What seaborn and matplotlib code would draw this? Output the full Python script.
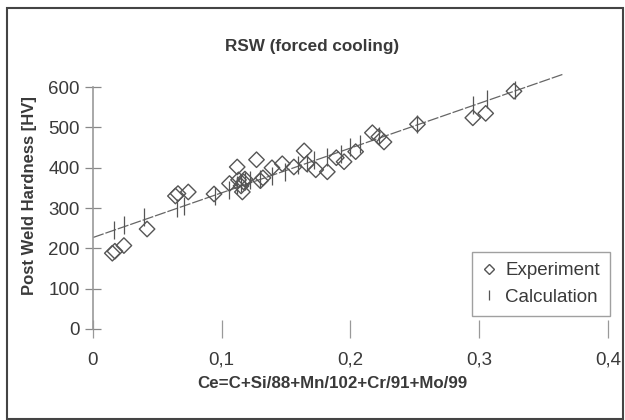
import matplotlib
matplotlib.use("Agg")
import matplotlib.pyplot as plt
from matplotlib.lines import Line2D
from matplotlib.patches import Rectangle
from matplotlib.ticker import FuncFormatter
import seaborn as sns
import pandas as pd

# ---- data ----
exp_x = [0.015, 0.017, 0.024, 0.042, 0.064, 0.066, 0.074, 0.094, 0.106, 0.112,
         0.113, 0.115, 0.116, 0.117, 0.118, 0.127, 0.130, 0.132, 0.139, 0.147,
         0.156, 0.164, 0.166, 0.173, 0.182, 0.189, 0.195, 0.204, 0.217, 0.222,
         0.226, 0.252, 0.295, 0.305, 0.327]
exp_y = [188, 193, 207, 248, 330, 336, 340, 335, 361, 402,
         370, 355, 340, 365, 372, 420, 368, 375, 400, 410,
         402, 442, 410, 395, 390, 425, 415, 440, 487, 477,
         464, 508, 524, 535, 590]

calc_x = [0.016, 0.024, 0.040, 0.065, 0.071, 0.095, 0.106, 0.112, 0.115, 0.118,
          0.122, 0.130, 0.139, 0.149, 0.159, 0.166, 0.172, 0.182, 0.193, 0.200,
          0.207, 0.222, 0.252, 0.295, 0.306, 0.328]
calc_y = [245, 258, 278, 300, 305, 330, 345, 358, 362, 368,
          370, 372, 380, 390, 408, 412, 420, 428, 435, 452,
          460, 480, 508, 556, 570, 592]

trend_x = [0.0, 0.365]
trend_y = [227, 632]

x_ticks = [0, 0.1, 0.2, 0.3, 0.4]
y_ticks = [0, 100, 200, 300, 400, 500, 600]

title = "RSW (forced cooling)"
xlabel = "Ce=C+Si/88+Mn/102+Cr/91+Mo/99"
ylabel = "Post Weld Hardness [HV]"

# ---- style ----
sns.set_theme(style="white")
plt.rcParams["font.family"] = ["Liberation Sans", "DejaVu Sans"]
TXT = "#3a3a3a"
GREY = "#555555"

fig = plt.figure(figsize=(6.25, 4.2), dpi=100)
ax = fig.add_axes([93 / 625, 0.2167, 515 / 625, 0.640])

exp_df = pd.DataFrame({"x": exp_x, "y": exp_y})
calc_df = pd.DataFrame({"x": calc_x, "y": calc_y})
trend_df = pd.DataFrame({"x": trend_x, "y": trend_y})

sns.lineplot(data=trend_df, x="x", y="y", ax=ax, color="#666666",
             linewidth=0.9, linestyle=(0, (9, 1.5)), zorder=2)
sns.scatterplot(data=calc_df, x="x", y="y", ax=ax, marker="|", s=180,
                color=GREY, linewidth=0.9, zorder=3)
sns.scatterplot(data=exp_df, x="x", y="y", ax=ax, marker="D", s=62,
                facecolor="none", edgecolor=GREY, linewidth=1.0, zorder=4)

ax.set_xlim(0, 0.4)
ax.set_ylim(0, 667)
ax.set_xticks(x_ticks)
ax.set_yticks(y_ticks)
ax.xaxis.set_major_formatter(FuncFormatter(
    lambda v, p: "0" if abs(v) < 1e-9 else f"{v:.1f}".replace(".", ",")))
ax.set_xlabel("")
ax.set_ylabel("")

for s in ["top", "right", "bottom"]:
    ax.spines[s].set_visible(False)
ax.spines["left"].set_color("#999999")
ax.spines["left"].set_linewidth(1.2)
ax.spines["left"].set_bounds(0, 600)

ax.tick_params(axis="y", direction="inout", length=11, width=0.9,
               color="#888888", labelsize=13.5, labelcolor=TXT, pad=4, left=True)
ax.tick_params(axis="x", direction="inout", length=13, width=0.9,
               color="#999999", labelsize=13.5, labelcolor=TXT, pad=10, bottom=True)

handles = [
    Line2D([], [], marker="D", linestyle="none", markersize=5.5,
           markerfacecolor="none", markeredgecolor=GREY, markeredgewidth=1.0),
    Line2D([], [], marker="|", linestyle="none", markersize=7,
           color=GREY, markeredgewidth=0.9),
]
leg = ax.legend(handles, ["Experiment", "Calculation"], loc="lower right",
                bbox_to_anchor=(1.004, 0.048), borderaxespad=0,
                fontsize=13.5, frameon=True, fancybox=False,
                handlelength=0.7, handletextpad=0.5, labelspacing=0.5,
                borderpad=0.55, labelcolor=TXT)
leg.get_frame().set_edgecolor("#888888")
leg.get_frame().set_linewidth(1.0)

fig.text(0.5, 1 - 46 / 420, title, ha="center", va="center",
         fontsize=12.3, fontweight="bold", color=TXT)
fig.text(332 / 625, 1 - 383 / 420, xlabel, ha="center", va="center",
         fontsize=12.2, fontweight="bold", color=TXT)
fig.text(30 / 625, 1 - 196 / 420, ylabel, ha="center", va="center",
         rotation=90, fontsize=12.0, fontweight="bold", color=TXT)

fig.patches.append(Rectangle((7 / 625, 0.002), 0.986, 1 - 8 / 420 - 0.002,
                             transform=fig.transFigure, fill=False,
                             edgecolor="#444444", linewidth=1.5))

fig.savefig("out.png", dpi=100)
